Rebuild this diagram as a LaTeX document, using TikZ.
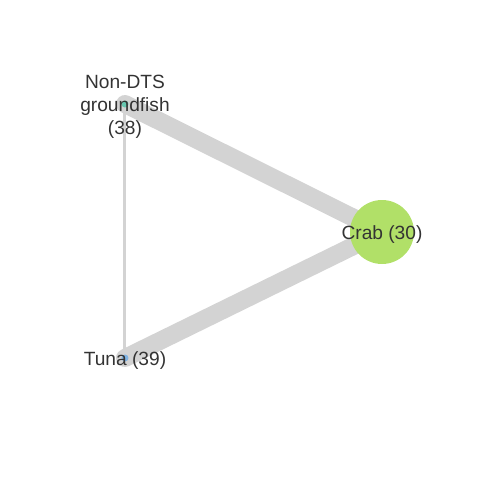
\documentclass[tikz,border=0pt]{standalone}
\usepackage{fontspec}
\setmainfont{Liberation Sans}
\usetikzlibrary{backgrounds}
\definecolor{edgeGray}{HTML}{D3D3D3}
\definecolor{nodeTeal}{HTML}{66C7B0}
\definecolor{nodeBlue}{HTML}{7FB3E3}
\definecolor{nodeGreen}{HTML}{B1E068}
\definecolor{labelText}{HTML}{333333}
\tikzset{
  fishnode/.style={circle, inner sep=0pt, draw=none},
  fishlabel/.style={font=\fontsize{10.9}{13.2}\selectfont, text=labelText, align=center, yshift=-0.06cm},
  flow/.style={draw=edgeGray, line cap=round},
  bigflow/.style={flow, line width=0.36cm},
  smallflow/.style={flow, line width=0.06cm},
}
\begin{document}
\begin{tikzpicture}
  \useasboundingbox (0,0) rectangle (9.6,9.6);
  \node[fishnode, fill=nodeTeal, minimum size=0.14cm,
    label={[fishlabel]center:Non-DTS\\groundfish\\(38)}] (ndts) at (2.5,7.52) {};
  \node[fishnode, fill=nodeBlue, minimum size=0.14cm,
    label={[fishlabel]center:Tuna (39)}] (tuna) at (2.5,2.44) {};
  \node[fishnode, fill=nodeGreen, minimum size=1.28cm,
    label={[fishlabel]center:Crab (30)}] (crab) at (7.64,4.96) {};
  \begin{scope}[on background layer]
    \draw[bigflow] (ndts.center) -- (crab.center);
    \draw[bigflow] (tuna.center) -- (crab.center);
    \draw[smallflow] (ndts.center) -- (tuna.center);
  \end{scope}
\end{tikzpicture}
\end{document}
